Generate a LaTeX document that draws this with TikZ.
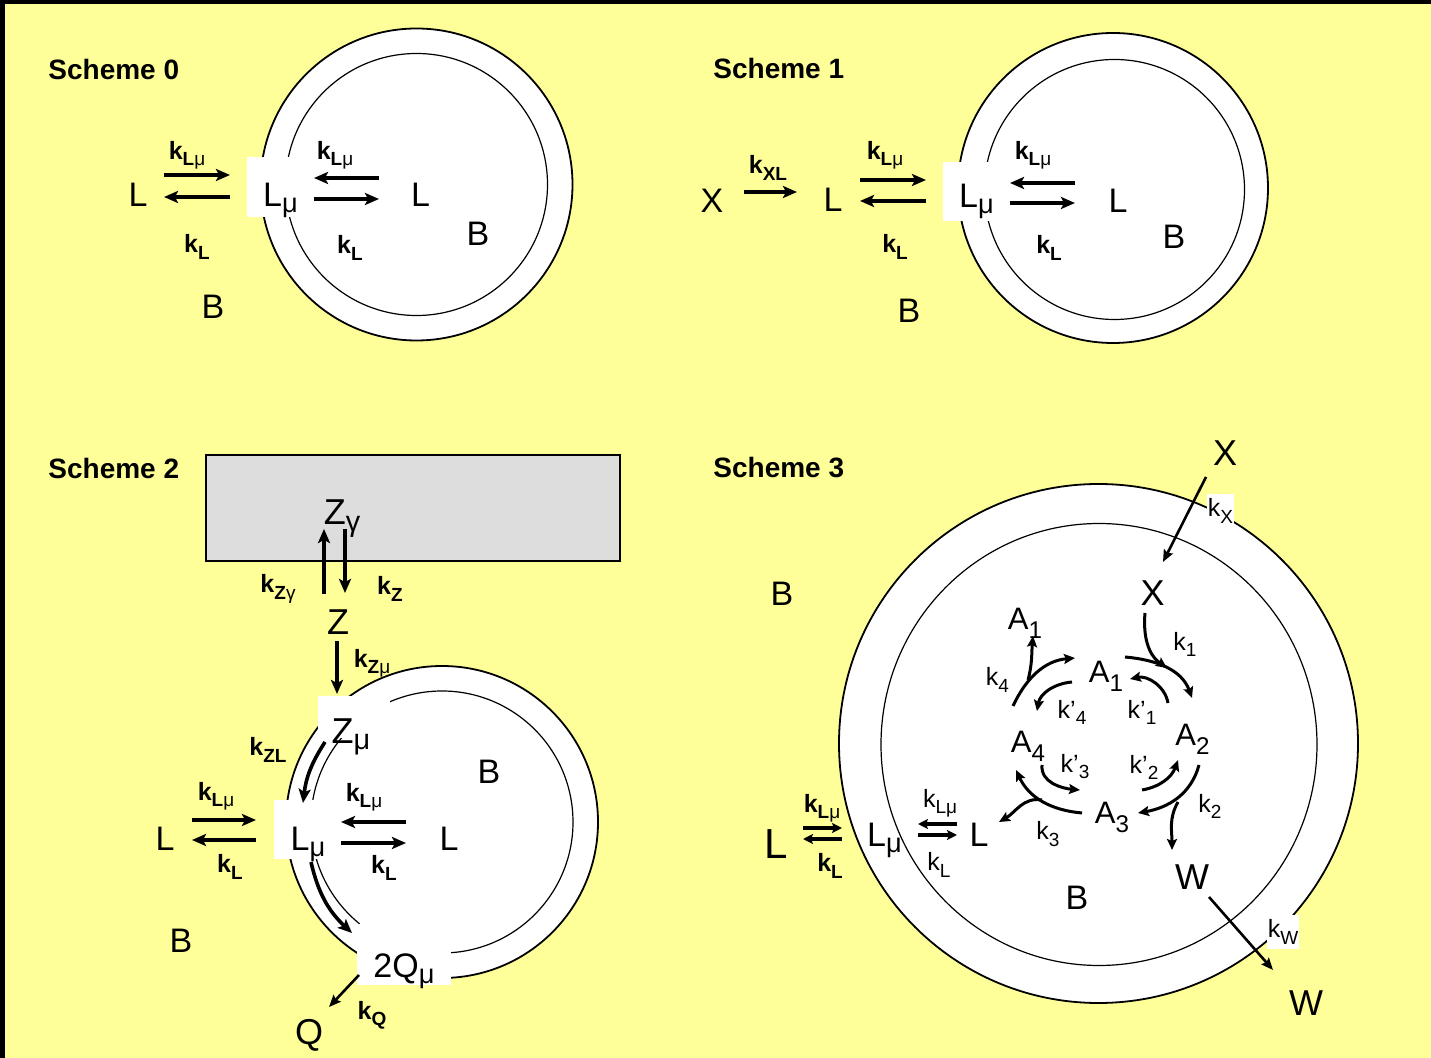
\documentclass[tikz,border=0pt]{standalone}
\usepackage{fontspec}
\usepackage{graphicx}
\setmainfont{Liberation Sans}
\usetikzlibrary{arrows.meta,calc}
\definecolor{bgyellow}{HTML}{FFFF99}
\definecolor{plategrey}{HTML}{DDDDDD}
% subscripts as the slides set them
\newcommand{\spsub}[1]{\raisebox{-0.18em}{\scalebox{0.8}{#1}}}
\newcommand{\numsub}[1]{\raisebox{-0.3em}{\scalebox{0.78}{#1}}}
\newcommand{\ratesub}[1]{\raisebox{-0.25em}{\scalebox{0.76}{#1}}}

\begin{document}
\begin{tikzpicture}[x=0.5pt,y=0.5pt,
    species/.style={inner sep=0pt,text height=12.2pt,text depth=0pt,font=\fontsize{17}{20}\selectfont},
    species large/.style={species,text height=12.9pt,font=\fontsize{18}{21}\selectfont},
    species small/.style={species,text height=11.1pt,font=\fontsize{15.5}{18}\selectfont},
    rate/.style={inner sep=0pt,font=\fontsize{12.5}{15}\selectfont\bfseries},
    rate light/.style={inner sep=0pt,font=\fontsize{12.5}{15}\selectfont},
    heading/.style={anchor=west,inner sep=0pt,font=\fontsize{14}{16}\selectfont\bfseries},
    flux/.style={line width=1.8pt,-{Stealth[length=7pt,width=6pt,inset=1.5pt]}},
    thin flux/.style={line width=1.3pt,-{Stealth[length=6pt,width=5pt,inset=1pt]}},
    small flux/.style={line width=1.6pt,-{Stealth[length=5pt,width=5pt,inset=1pt]}},
    turn/.style={line width=1.5pt,-{Stealth[length=5.5pt,width=5pt,inset=1pt]}},
    membrane/.style={draw=black,line width=0.9pt,fill=white},
    inner wall/.style={draw=black,line width=0.6pt}]

    % Background
    \useasboundingbox (0,0) rectangle (1431,-1058);
    \fill[bgyellow] (0,0) rectangle (1431,-1058);
    \fill[black] (0,0) rectangle (1431,-4);
    \fill[black] (0,0) rectangle (5,-1058);

    % Scheme 0
    \node[heading] (title0) at (48,-69) {Scheme 0};
    \draw[membrane] (416.5,-184.5) circle[radius=156];
    \draw[inner wall] (416.5,-184.5) circle[radius=131];
    \fill[white] (247,-157) rectangle (299,-217);
    \node[species] (L0) at (138,-194) {L};
    \node[species] (Lmu0) at (280.5,-194) {L\spsub{μ}};
    \node[species] (Li0) at (420.5,-194) {L};
    \node[species] (Bo0) at (213,-306) {B};
    \node[species] (Bi0) at (478,-233) {B};
    \draw[flux] ($(L0)+(26,19)$) -- ($(Lmu0)+(-50.5,19)$);
    \draw[flux] ($(Lmu0)+(-50.5,-3)$) -- ($(L0)+(26,-3)$);
    \draw[flux] ($(Li0)+(-41.5,16)$) -- ($(Lmu0)+(33.5,16)$);
    \draw[flux] ($(Lmu0)+(33.5,-5)$) -- ($(Li0)+(-41.5,-5)$);
    \node[rate] (kin0) at (187,-155) {k\ratesub{L\textmd{μ}}};
    \node[rate] (kout0) at (197,-247) {k\ratesub{L}};
    \node[rate] (kini0) at (335,-155) {k\ratesub{L\textmd{μ}}};
    \node[rate] (kouti0) at (350,-248) {k\ratesub{L}};

    % Scheme 1
    \node[heading] (title1) at (713,-68) {Scheme 1};
    \draw[membrane] (1113,-188) circle[radius=155];
    \draw[inner wall] (1114.5,-189.5) circle[radius=130];
    \fill[white] (943,-162) rectangle (995,-221);
    \node[species] (X1) at (712,-200) {X};
    \node[species] (L1) at (833,-199) {L};
    \node[species] (Lmu1) at (976.5,-195) {L\spsub{μ}};
    \node[species] (Li1) at (1118,-200) {L};
    \node[species] (Bo1) at (909,-310) {B};
    \node[species] (Bi1) at (1174,-236) {B};
    \draw[flux] ($(X1)+(32,8)$) -- ($(L1)+(-36,7)$);
    \draw[flux] ($(L1)+(27,19)$) -- ($(Lmu1)+(-50.5,15)$);
    \draw[flux] ($(Lmu1)+(-50.5,-6)$) -- ($(L1)+(27,-2)$);
    \draw[flux] ($(Li1)+(-43,17)$) -- ($(Lmu1)+(33.5,12)$);
    \draw[flux] ($(Lmu1)+(33.5,-8)$) -- ($(Li1)+(-43,-3)$);
    \node[rate] (kxl1) at (768,-168) {k\ratesub{XL}};
    \node[rate] (kin1) at (885,-155) {k\ratesub{L\textmd{μ}}};
    \node[rate] (kout1) at (895,-247) {k\ratesub{L}};
    \node[rate] (kini1) at (1033,-155) {k\ratesub{L\textmd{μ}}};
    \node[rate] (kouti1) at (1049,-248) {k\ratesub{L}};

    % Scheme 2
    \node[heading] (title2) at (48,-468) {Scheme 2};
    \draw[fill=plategrey,line width=0.6pt] (206,-455) rectangle (620,-561);
    \draw[membrane] (442,-822) circle[radius=156];
    \draw[inner wall] (442,-822) ++(-87:131) arc[start angle=-87,end angle=231,radius=131];
    \fill[white] (318,-696) rectangle (390,-738);
    \fill[white] (274,-800) rectangle (335,-859);
    \fill[white] (357,-948) rectangle (451,-985);
    \node[species large] (Zg2) at (342,-512) {Z\spsub{γ}};
    \node[species large] (Z2) at (338,-622) {Z};
    \node[species large] (Zmu2) at (351,-730.5) {Z\spsub{μ}};
    \node[species] (L2) at (165,-838) {L};
    \node[species] (Lmu2) at (308,-838) {L\spsub{μ}};
    \node[species] (Li2) at (449,-838) {L};
    \node[species] (Qmu2) at (404,-965.5) {2Q\spsub{μ}};
    \node[species large] (Q2) at (309,-1031.5) {Q};
    \node[species] (Bo2) at (181,-940) {B};
    \node[species] (Bi2) at (489,-771) {B};
    \draw[flux] ($(Z2)+(-14,28)$) -- ($(Zg2)+(-18,-17)$);
    \draw[flux] ($(Zg2)+(3,-17)$) -- ($(Z2)+(7,29)$);
    \draw[flux] ($(Z2)+(-1,-19)$) -- ($(Zmu2)+(-14,36.5)$);
    \draw[flux] ($(Zmu2)+(-26,-11.5)$) to[bend right=13] ($(Lmu2)+(-5,35)$);
    \draw[flux] ($(Lmu2)+(3,-24)$) to[bend right=17] ($(Qmu2)+(-52,32.5)$);
    \draw[thin flux] ($(Qmu2)+(-45,-9.5)$) -- ($(Q2)+(20,24.5)$);
    \draw[flux] ($(L2)+(27,18)$) -- ($(Lmu2)+(-52,18)$);
    \draw[flux] ($(Lmu2)+(-52,-2)$) -- ($(L2)+(27,-2)$);
    \draw[flux] ($(Li2)+(-43,16)$) -- ($(Lmu2)+(33,16)$);
    \draw[flux] ($(Lmu2)+(33,-5)$) -- ($(Li2)+(-43,-5)$);
    \node[rate] (kzg2) at (278,-589) {k\ratesub{Z\textmd{γ}}};
    \node[rate] (kz2) at (390,-589) {k\ratesub{Z}};
    \node[rate] (kzm2) at (372,-663) {k\ratesub{Z\textmd{μ}}};
    \node[rate] (kzl2) at (268,-750) {k\ratesub{ZL}};
    \node[rate] (kin2) at (216,-796) {k\ratesub{L\textmd{μ}}};
    \node[rate] (kout2) at (230,-867) {k\ratesub{L}};
    \node[rate] (kini2) at (364,-797) {k\ratesub{L\textmd{μ}}};
    \node[rate] (kouti2) at (384,-868) {k\ratesub{L}};
    \node[rate] (kq2) at (372,-1015) {k\ratesub{Q}};

    % Scheme 3
    \node[heading] (title3) at (713,-468) {Scheme 3};
    \draw[membrane] (1098.5,-743.5) circle[radius=259.5];
    \draw[inner wall] (1099,-744.5) ellipse[x radius=218,y radius=221];
    \node[rate light,fill=white,minimum width=13.5pt,minimum height=17pt] (kx3) at (1220.5,-511) {k\ratesub{X}};
    \node[rate light,fill=white,minimum width=16pt,minimum height=17pt] (kw3) at (1283,-932) {k\ratesub{W}};
    \node[species large] (Xo3) at (1225,-452.5) {X};
    \node[species large] (Xi3) at (1152.5,-592.5) {X};
    \node[species large] (Wi3) at (1192,-876.5) {W};
    \node[species large] (Wo3) at (1306,-1003) {W};
    \node[species,text height=15pt,font=\fontsize{21}{24}\selectfont] (Lo3) at (776.5,-844) {L};
    \node[species] (Lmu3) at (884.5,-834.5) {L\spsub{μ}};
    \node[species] (Li3) at (979,-834.5) {L};
    \node[species small] (A1) at (1106,-671) {A\numsub{1}};
    \node[species small] (A1p) at (1025,-618) {A\numsub{1}};
    \node[species small] (A2) at (1192.5,-734.5) {A\numsub{2}};
    \node[species small] (A3) at (1112,-812.5) {A\numsub{3}};
    \node[species small] (A4) at (1028,-741.5) {A\numsub{4}};
    \node[species] (Bo3) at (782,-593) {B};
    \node[species] (Bi3) at (1077,-897.5) {B};
    \draw[thin flux] ($(Xo3)+(-19,-24.5)$) -- ($(Xi3)+(10.5,30.5)$);
    \draw[thin flux] ($(Wi3)+(17,-20.5)$) -- ($(Wo3)+(-33,33)$);
    \draw[small flux] ($(Lo3)+(26.5,16)$) -- ($(Lmu3)+(-42.5,6.5)$);
    \draw[small flux] ($(Lmu3)+(-42.5,-4.5)$) -- ($(Lo3)+(26.5,5)$);
    \draw[small flux] ($(Li3)+(-22,10.5)$) -- ($(Lmu3)+(33.5,10.5)$);
    \draw[small flux] ($(Lmu3)+(33.5,-0.5)$) -- ($(Li3)+(-22,-0.5)$);
    % cycle
    \draw[turn] ($(Xi3)+(-7.5,-20.5)$) to[out=-95,in=145] ($(A2)+(-25.5,66.5)$);
    \draw[turn] ($(A1)+(19,14)$) to[out=-5,in=110] ($(A2)+(-0.5,36.5)$);
    \draw[turn] ($(A2)+(6.5,-30.5)$) to[out=-105,in=10] ($(A3)+(26,-0.5)$);
    \draw[turn] ($(A2)+(-14.5,-67.5)$) to[out=-120,in=90] ($(Wi3)+(-20,26.5)$);
    \draw[turn] ($(A3)+(-30,-0.5)$) to[out=175,in=-65] ($(A4)+(-12,-28.5)$);
    \draw[turn] ($(A3)+(-70,12.5)$) to[out=170,in=30] ($(Li3)+(20,12.5)$);
    \draw[turn] ($(A4)+(-15,35.5)$) to[out=65,in=185] ($(A1)+(-31,13)$);
    \draw[turn] ($(A4)+(0,61.5)$) to[out=75,in=-95] ($(A1p)+(8,-18)$);
    \draw[turn] ($(A1)+(-34,-11)$) to[out=185,in=80] ($(A4)+(9,30.5)$);
    \draw[turn] ($(A2)+(-24.5,31.5)$) to[out=100,in=12] ($(A1)+(24,-8)$);
    \draw[turn] ($(A3)+(30,22.5)$) to[out=10,in=-110] ($(A2)+(-14.5,-25.5)$);
    \draw[turn] ($(A4)+(14,-23.5)$) to[out=-95,in=175] ($(A3)+(-32,22.5)$);
    \node[rate] (kin3) at (822,-808) {k\ratesub{L\textmd{μ}}};
    \node[rate] (kout3) at (830,-866) {k\ratesub{L}};
    \node[rate light] (kini3) at (940,-803) {k\ratesub{Lμ}};
    \node[rate light] (kouti3) at (939,-865) {k\ratesub{L}};
    \node[rate light] (k1) at (1185,-644.5) {k\ratesub{1}};
    \node[rate light] (k2) at (1210,-806.5) {k\ratesub{2}};
    \node[rate light] (k3) at (1048,-834) {k\ratesub{3}};
    \node[rate light] (k4) at (997.5,-680) {k\ratesub{4}};
    \node[rate light] (kb1) at (1142,-712.5) {k’\ratesub{1}};
    \node[rate light] (kb2) at (1144,-767.5) {k’\ratesub{2}};
    \node[rate light] (kb3) at (1075,-766.5) {k’\ratesub{3}};
    \node[rate light] (kb4) at (1072,-712.5) {k’\ratesub{4}};
\end{tikzpicture}
\end{document}
